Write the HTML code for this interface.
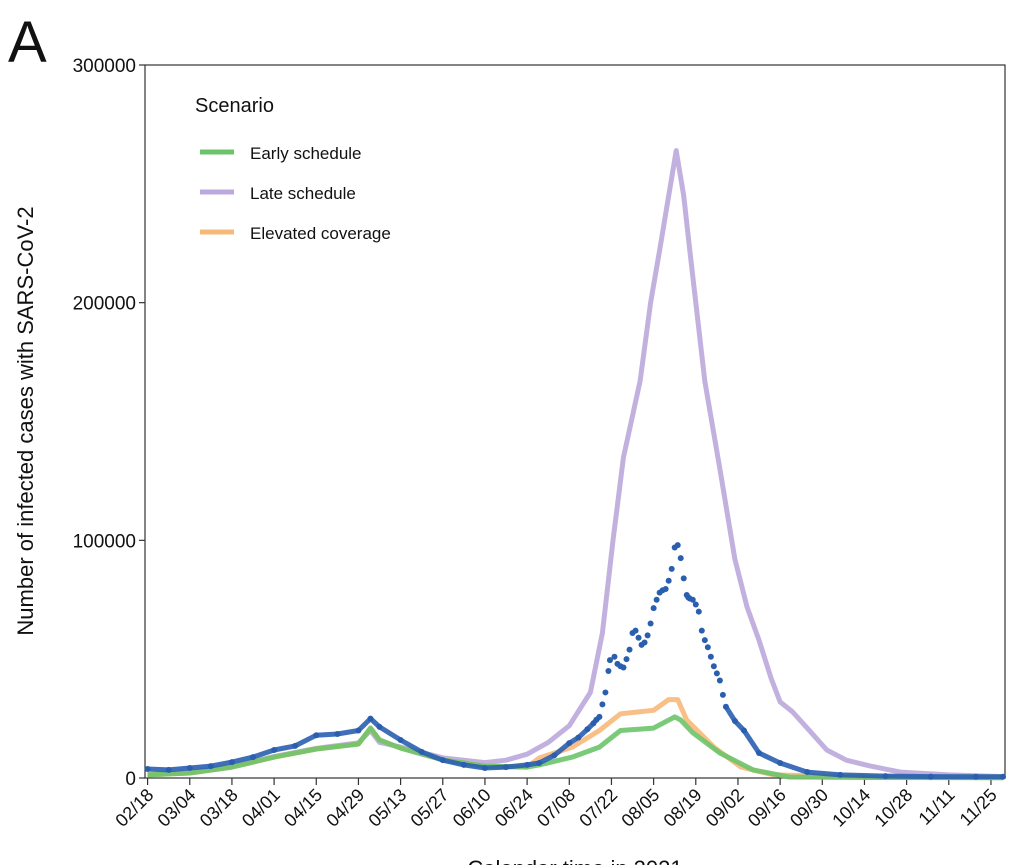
<!DOCTYPE html>
<html><head><meta charset="utf-8"><style>
body{margin:0;background:#fff;width:1024px;height:865px;overflow:hidden;font-family:"Liberation Sans",sans-serif}
svg{display:block}
</style></head><body>
<svg id="chart" width="1024" height="865" viewBox="0 0 1024 865" xmlns="http://www.w3.org/2000/svg" font-family="Liberation Sans, sans-serif">
<text x="8" y="62" font-size="58" fill="#111">A</text>
<rect x="145" y="65" width="860" height="713" fill="none" stroke="#333" stroke-width="1.2"/>
<g id="yaxis"></g>
<g id="xaxis"></g>
<g id="series"></g>
<text transform="translate(33,421) rotate(-90)" text-anchor="middle" font-size="22" fill="#111">Number of infected cases with SARS-CoV-2</text>
<text x="575" y="876" text-anchor="middle" font-size="22" fill="#111">Calendar time in 2021</text>
<g>
<text x="195" y="112" font-size="20" fill="#111">Scenario</text>
<line x1="200" y1="152" x2="234" y2="152" stroke="#6cc46a" stroke-width="5"/>
<text x="250" y="159" font-size="17" fill="#111">Early schedule</text>
<line x1="200" y1="192" x2="234" y2="192" stroke="#bba8dc" stroke-width="5"/>
<text x="250" y="199" font-size="17" fill="#111">Late schedule</text>
<line x1="200" y1="232" x2="234" y2="232" stroke="#f7b97a" stroke-width="5"/>
<text x="250" y="239" font-size="17" fill="#111">Elevated coverage</text>
</g>
</svg>
<script>
const yTicks=[0,100000,200000,300000];
const xTickLabels=["02/18","03/04","03/18","04/01","04/15","04/29","05/13","05/27","06/10","06/24","07/08","07/22","08/05","08/19","09/02","09/16","09/30","10/14","10/28","11/11","11/25"];
const lateDays=[0,14,28,42,56,70,74,77,84,98,112,119,126,133,140,147,151,154.5,158,163.5,167,170,173,175.5,178,180,185,190,195,199,203,207,210,214,219,225.5,232,240,250,266,284];
const lateVals=[1500,2300,4800,9000,12500,14800,20000,15000,13000,8500,6500,7500,10000,15000,22000,36000,61000,100000,135000,167000,200000,222000,245000,264000,245000,222000,167000,130000,92000,72000,58000,42000,32000,28000,21000,11800,7500,5000,2500,1300,600];
const earlyDays=[0,14,28,42,56,70,74,77,84,98,112,126,130,141,150,157,168,175,177,181,190,201,213,240,284];
const earlyVals=[1300,2100,4600,8800,12200,14300,21000,16000,12600,7600,5000,4600,5500,8800,13000,20000,21000,25700,24400,19000,10500,3400,400,200,100];
const elevDays=[0,14,28,42,56,70,74,77,84,98,112,126,130,141,150,157,168,173,176,179,188,197,208,240,284];
const elevVals=[1300,2100,4600,8800,12200,14300,21000,16000,12600,7600,5000,4600,8400,13000,20000,27000,28500,33000,33000,24400,13000,4600,1300,400,150];
const obsDays=[0,7,14,21,28,35,42,49,56,63,70,74,77,84,91,98,105,112,119,126,130,135,140,143,146,148,149,150,151,152,153,153.5,155,156,157,158,159,160,161,162,163,164,165,166,167,168,169,170,171,172,173,174,175,176,177,178,179,179.5,180,181,182,183,184,185,186,187,188,189,190,191,192,195,198,203,210,219,230,245,260,275,284];
const obsVals=[3800,3400,4200,5000,6700,8800,11800,13500,18000,18500,20000,25000,21500,16000,11000,7500,5500,4200,4600,5500,6300,9500,14700,17000,20500,23000,24500,25700,31000,36000,45000,49600,51000,48000,47000,46500,50000,54000,61000,62000,59000,56000,57000,60000,65000,71500,75000,78000,79000,79500,83000,88000,97000,98000,92500,84000,77000,76000,75500,75000,73000,70000,62000,58000,55000,51000,47000,44000,41000,35000,30000,24000,20000,10500,6300,2500,1300,800,600,500,500];

const X0=147.6,PXD=3.012,Y0=778,YH=713,YMAX=300000;
const xs=d=>X0+PXD*d, ys=v=>Y0-v/YMAX*YH;
const NS="http://www.w3.org/2000/svg";
function mk(tag,attrs,parent){const e=document.createElementNS(NS,tag);for(const k in attrs)e.setAttribute(k,attrs[k]);parent.appendChild(e);return e;}
const ya=document.getElementById('yaxis'),xa=document.getElementById('xaxis'),sl=document.getElementById('series');
yTicks.forEach(v=>{
 const t=mk('line',{x1:139,x2:145,y1:ys(v),y2:ys(v),stroke:'#333','stroke-width':1.2},ya);
 
 
 const l=mk('text',{x:136,y:ys(v)+7,'text-anchor':'end','font-size':19,fill:'#111'},ya);
 l.textContent=String(v);
 
 
});
xTickLabels.forEach((s,i)=>{
 const x=xs(i*14);
 const t=mk('line',{x1:x,x2:x,y1:778,y2:785,stroke:'#333','stroke-width':1.2},xa);
 
 
 const l=mk('text',{x:0,y:0,'text-anchor':'end','font-size':18,fill:'#111',transform:`translate(${x+7},${796}) rotate(-45)`},xa);
 l.textContent=s;
 
 
});
function line(days,vals,color,name,w){
 const p=days.map((d,i)=>xs(d).toFixed(1)+','+ys(vals[i]).toFixed(1)).join(' ');
 const e=mk('polyline',{points:p,fill:'none',stroke:color,'stroke-width':w,'stroke-linejoin':'round','stroke-opacity':0.9},sl);
 
 
}
line(lateDays,lateVals,'#bba8dc','late-schedule-line',5);
line(elevDays,elevVals,'#f7b97a','elevated-coverage-line',5);
line(earlyDays,earlyVals,'#6cc46a','early-schedule-line',5);
const obsBase=obsDays.map((d,i)=>({d,v:obsVals[i]}));
const pre=obsBase.filter(o=>o.d<=150), post=obsBase.filter(o=>o.d>=192);
line(pre.map(o=>o.d),pre.map(o=>o.v),'#2a5fb0','observed-line-early',5);
line(post.map(o=>o.d),post.map(o=>o.v),'#2a5fb0','observed-line-late',5);
obsDays.forEach((d,i)=>{
 const c=mk('circle',{cx:xs(d),cy:ys(obsVals[i]),r:3,fill:'#2a5fb0'},sl);
 
 
});
</script>
</body></html>
